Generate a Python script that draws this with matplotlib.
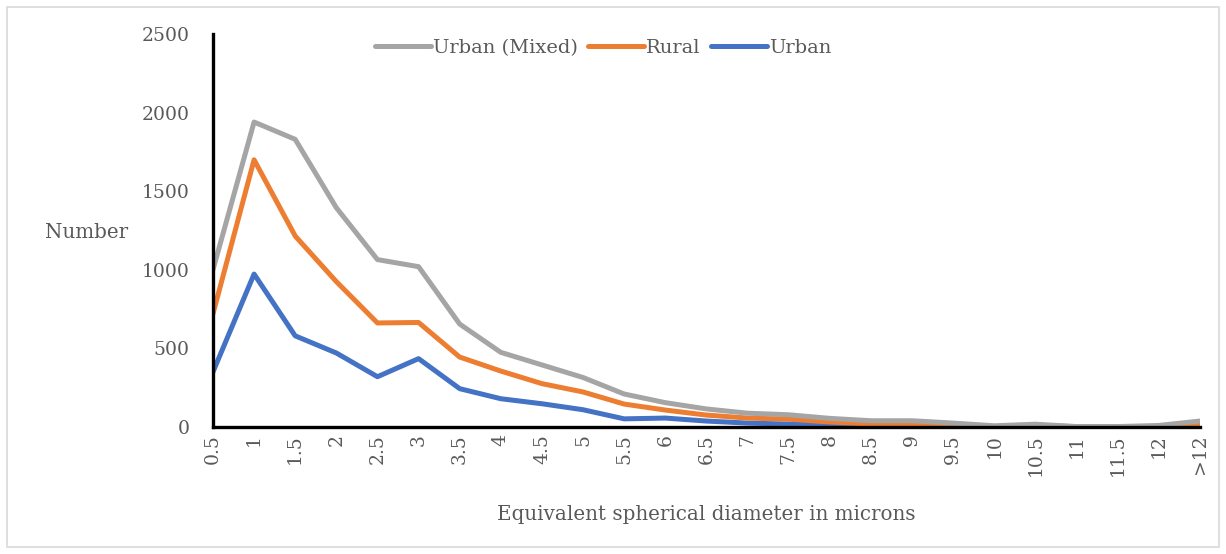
import matplotlib.pyplot as plt
from matplotlib.patches import Rectangle

sizes = ['0.5', '1', '1.5', '2', '2.5', '3', '3.5', '4', '4.5', '5', '5.5', '6',
         '6.5', '7', '7.5', '8', '8.5', '9', '9.5', '10', '10.5', '11', '11.5', '12', '>12']

urban_mixed = [1000, 1940, 1830, 1395, 1065, 1020, 655, 475, 395, 315, 210, 155,
               115, 88, 78, 55, 40, 40, 25, 8, 18, 3, 3, 10, 38]
rural = [720, 1700, 1215, 925, 662, 665, 445, 356, 276, 223, 146, 108,
         76, 57, 50, 32, 19, 19, 8, 2, 12, 2, 2, 2, 20]
urban = [350, 973, 580, 471, 320, 435, 244, 180, 148, 110, 52, 57,
         38, 25, 19, 12, 6, 6, 3, 2, 3, 1, 1, 1, 3]

plt.rcParams['font.family'] = ['DejaVu Serif']
txt = '#595959'

fig = plt.figure(figsize=(12.26, 5.54), dpi=100)
ax = fig.add_axes([0.1737, 0.2292, 0.805, 0.7094])

x = range(len(sizes))
l3, = ax.plot(x, urban, color='#4472C4', lw=3.6, solid_capstyle='round', zorder=3)
l2, = ax.plot(x, rural, color='#ED7D31', lw=3.6, solid_capstyle='round', zorder=4)
l1, = ax.plot(x, urban_mixed, color='#A5A5A5', lw=3.6, solid_capstyle='round', zorder=5)

ax.set_xlim(0, len(sizes) - 1)
ax.set_ylim(0, 2500)
ax.set_yticks(range(0, 2501, 500))
ax.set_xticks(list(x))
ax.set_xticklabels(sizes, rotation=90)
ax.tick_params(length=0, labelsize=13.5, labelcolor=txt)
ax.tick_params(axis='y', pad=17)
ax.tick_params(axis='x', pad=5)

for s in ['top', 'right']:
    ax.spines[s].set_visible(False)
for s in ['left', 'bottom']:
    ax.spines[s].set_linewidth(2.4)
    ax.spines[s].set_color('black')
    ax.spines[s].set_zorder(6)

ax.set_xlabel('Equivalent spherical diameter in microns', fontsize=14.3, color=txt, labelpad=21)
fig.text(0.071, 0.58, 'Number', fontsize=14.3, color=txt, ha='center', va='center')

leg = fig.legend([l1, l2, l3], ['Urban (Mixed)', 'Rural', 'Urban'],
                 loc='center', bbox_to_anchor=(0.492, 0.913), ncol=3, frameon=False,
                 fontsize=14, handlelength=2.9, handletextpad=0.1, columnspacing=0.5)
for t in leg.get_texts():
    t.set_color(txt)

fig.patches.append(Rectangle((0.006, 0.012), 0.988, 0.976, transform=fig.transFigure,
                             fill=False, edgecolor='#D9D9D9', lw=1.2))

fig.savefig('out.png', dpi=100)
